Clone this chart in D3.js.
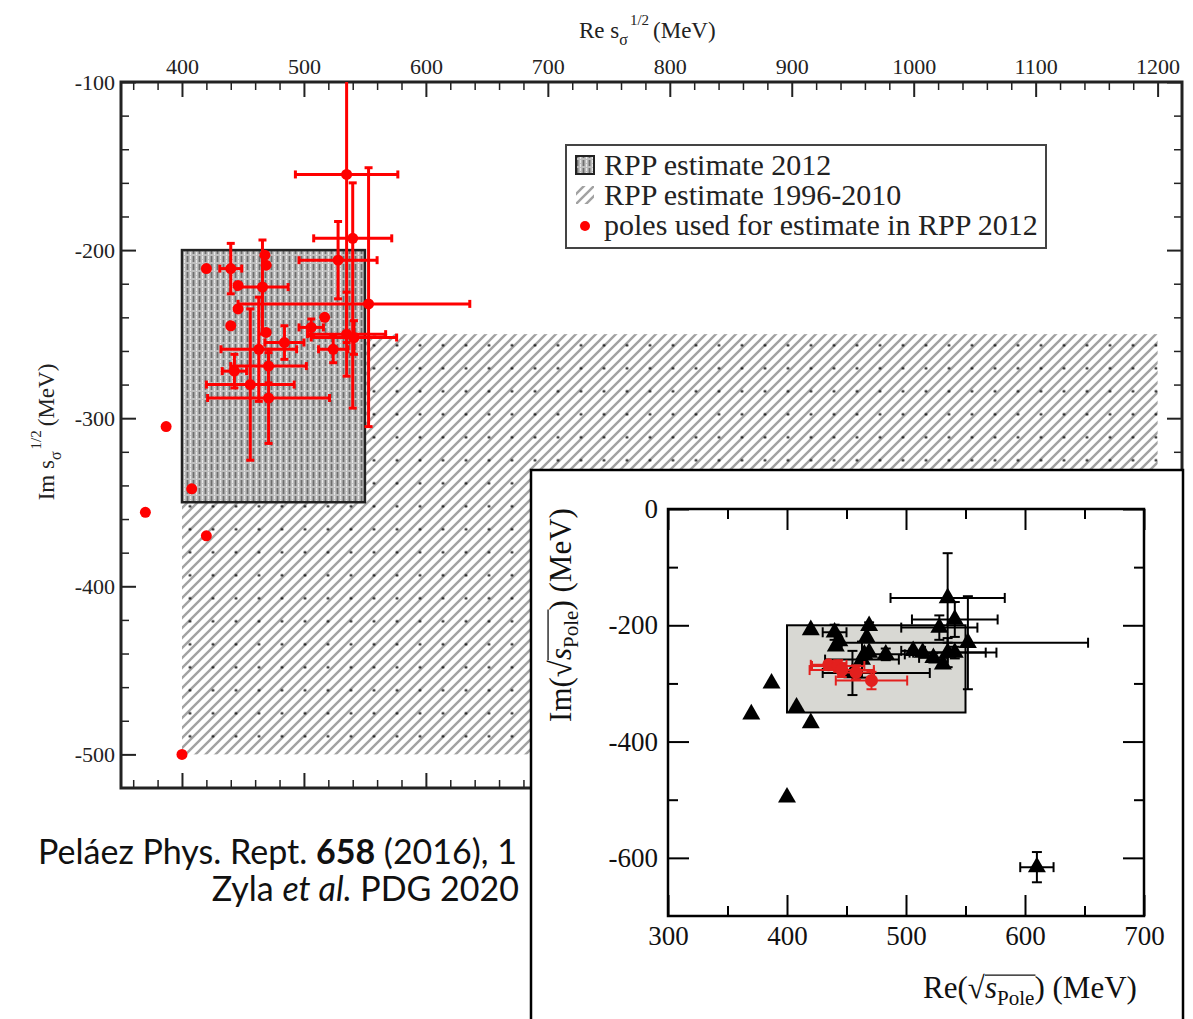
<!DOCTYPE html>
<html>
<head>
<meta charset="utf-8">
<script src="https://cdn.jsdelivr.net/npm/d3@7"></script>
<style>
  body { margin: 0; background: #fff; }
  svg { display: block; }
  .serif { font-family: "Liberation Serif", "Times New Roman", serif; }
</style>
</head>
<body>
<div id="chart"></div>
<script>
// ---------------- data ----------------
const mainXTicks = [400, 500, 600, 700, 800, 900, 1000, 1100, 1200];
const mainYTicks = [-100, -200, -300, -400, -500];
const rpp2012Re = [400, 550], rpp2012Im = [-350, -200];
const rppOldRe = [400, 1200], rppOldIm = [-500, -250];
const legendLabels = ["RPP estimate 2012", "RPP estimate 1996-2010", "poles used for estimate in RPP 2012"];

// poles used for estimate in RPP 2012 (main plot), errors: minus / plus
const poleRe  = [535, 540, 528, 553, 420, 440, 468, 469, 446, 466, 446, 440, 517, 506, 535, 524, 484, 463, 469, 443, 456, 471, 471, 541, 400, 387, 408, 370, 420];
const poleIm  = [-155, -193, -206, -232, -211, -211, -203, -209, -221, -222, -235, -245, -240, -246, -250, -259, -255, -259, -249, -272, -280, -269, -288, -252, -500, -305, -342, -356, -370];
const poleReM = [42, 32, 32, 107, 0, 9, 0, 0, 0, 21, 0, 0, 0, 10, 32, 12, 16, 31, 0, 10, 36, 31, 50, 35, 0, 0, 0, 0, 0];
const poleReP = [42, 32, 32, 83, 0, 9, 0, 0, 0, 21, 0, 0, 0, 10, 32, 12, 16, 31, 0, 10, 36, 31, 50, 35, 0, 0, 0, 0, 0];
const poleImM = [100, 101, 23, 73, 0, 15, 0, 0, 0, 28, 0, 0, 0, 5, 25, 8, 10, 31, 0, 10, 45, 10, 27, 10, 0, 0, 0, 0, 0];
const poleImP = [100, 33, 23, 81, 0, 15, 0, 0, 0, 28, 0, 0, 0, 5, 25, 8, 10, 31, 0, 10, 45, 10, 27, 10, 0, 0, 0, 0, 0];

// inset (PDG 2020)
const insetXTicks = [300, 400, 500, 600, 700];
const insetYTicks = [0, -200, -400, -600];
const insetBoxRe = [400, 550], insetBoxIm = [-350, -200];
const pdgRe  = [535, 541, 528, 552, 420, 440, 444, 441, 469, 467, 469, 455, 483, 506, 514, 523, 531, 535, 541, 387, 370, 408, 420, 400, 610, 463, 465];
const pdgIm  = [-153, -190, -204, -230, -208, -212, -227, -236, -201, -221, -247, -282, -250, -244, -247, -256, -267, -247, -247, -300, -353, -341, -368, -496, -616, -259, -250];
const pdgReM = [48, 36, 32, 106, 0, 10, 0, 0, 0, 0, 0, 25, 16, 10, 0, 12, 0, 32, 35, 0, 0, 0, 0, 0, 14, 31, 0];
const pdgReP = [48, 36, 32, 101, 0, 10, 0, 0, 0, 0, 0, 65, 16, 10, 0, 12, 0, 32, 35, 0, 0, 0, 0, 0, 14, 31, 0];
const pdgImM = [77, 30, 21, 80, 0, 13, 0, 0, 6, 0, 0, 38, 10, 0, 0, 8, 0, 25, 10, 0, 0, 0, 0, 0, 26, 31, 0];
const pdgImP = [77, 30, 21, 80, 0, 13, 0, 0, 6, 0, 0, 38, 10, 0, 0, 8, 0, 25, 10, 0, 0, 0, 0, 0, 26, 31, 0];
const redRe  = [435, 443, 446, 458, 471];
const redIm  = [-268, -270, -277, -281, -295];
const redReE = [15, 22, 27, 15, 30];
const redImE = [5, 10, 12, 12, 15];

// ---------------- setup ----------------
const W = 1193, H = 1019;
const svg = d3.select("#chart").append("svg").attr("width", W).attr("height", H);
const defs = svg.append("defs");
const fmt = d => String(d);   // plain hyphen minus, no thousands comma

// grey vertical texture for RPP 2012
const p1 = defs.append("pattern").attr("id", "rpp2012")
  .attr("patternUnits", "userSpaceOnUse").attr("width", 6).attr("height", 8);
p1.append("rect").attr("width", 6).attr("height", 8).attr("fill", "#bdbdbd");
p1.append("line").attr("x1", 1.5).attr("x2", 1.5).attr("y1", 0).attr("y2", 8)
  .attr("stroke", "#6e6e6e").attr("stroke-width", 1.8).attr("stroke-dasharray", "6 2");
p1.append("line").attr("x1", 4.5).attr("x2", 4.5).attr("y1", 0).attr("y2", 8)
  .attr("stroke", "#e8e8e8").attr("stroke-width", 1).attr("stroke-dasharray", "3 1");

// diagonal hatch for RPP 1996-2010
const p2 = defs.append("pattern").attr("id", "hatch")
  .attr("patternUnits", "userSpaceOnUse").attr("width", 10).attr("height", 10);
p2.append("rect").attr("width", 10).attr("height", 10).attr("fill", "#fff");
p2.append("path").attr("d", "M-2,12 L12,-2 M-2,2 L2,-2 M8,12 L12,8")
  .attr("stroke", "#a2a2a2").attr("stroke-width", 2.4);

const p3 = defs.append("pattern").attr("id", "dots")
  .attr("patternUnits", "userSpaceOnUse").attr("width", 23).attr("height", 23)
  .attr("x", 178.5).attr("y", 517.8);
p3.append("circle").attr("cx", 11.5).attr("cy", 11.5).attr("r", 1.3).attr("fill", "#111");

// ---------------- main plot ----------------
const x = d3.scaleLinear().domain([350, 1220]).range([121, 1182]);
const y = d3.scaleLinear().domain([-520, -100]).range([788, 82]);

defs.append("clipPath").attr("id", "mainClip").append("rect")
  .attr("x", x.range()[0]).attr("y", y.range()[1])
  .attr("width", x.range()[1] - x.range()[0]).attr("height", y.range()[0] - y.range()[1]);

const main = svg.append("g");

// old estimate region
["url(#hatch)", "url(#dots)"].forEach(f => main.append("rect")
  .attr("x", x(rppOldRe[0])).attr("y", y(rppOldIm[1]))
  .attr("width", x(rppOldRe[1]) - x(rppOldRe[0])).attr("height", y(rppOldIm[0]) - y(rppOldIm[1]))
  .attr("fill", f));

// 2012 box
main.append("rect")
  .attr("x", x(rpp2012Re[0])).attr("y", y(rpp2012Im[1]))
  .attr("width", x(rpp2012Re[1]) - x(rpp2012Re[0])).attr("height", y(rpp2012Im[0]) - y(rpp2012Im[1]))
  .attr("fill", "url(#rpp2012)").attr("stroke", "#222").attr("stroke-width", 2.5);

// axes (ticks pointing inside)
const minorX = d3.range(360, 1220, 20).filter(v => v % 100 !== 0);
const minorY = d3.range(-500, -100, 20).filter(v => v % 100 !== 0);

function styleAxis(g, w) {
  g.select(".domain").remove();
  g.selectAll(".tick line").attr("stroke", "#222").attr("stroke-width", w);
  g.selectAll(".tick text").attr("class", "serif").attr("font-size", 22).attr("fill", "#222");
}

main.append("g").attr("transform", `translate(0,${y.range()[1]})`)
  .call(d3.axisTop(x).tickValues(mainXTicks).tickSize(-15).tickPadding(8).tickFormat(fmt))
  .call(g => styleAxis(g, 2));
main.append("g").attr("transform", `translate(0,${y.range()[1]})`)
  .call(d3.axisTop(x).tickValues(minorX).tickSize(-8).tickFormat(""))
  .call(g => styleAxis(g, 1.5));
main.append("g").attr("transform", `translate(0,${y.range()[0]})`)
  .call(d3.axisBottom(x).tickValues(mainXTicks).tickSize(-15).tickFormat(""))
  .call(g => styleAxis(g, 2));
main.append("g").attr("transform", `translate(0,${y.range()[0]})`)
  .call(d3.axisBottom(x).tickValues(minorX).tickSize(-8).tickFormat(""))
  .call(g => styleAxis(g, 1.5));
main.append("g").attr("transform", `translate(${x.range()[0]},0)`)
  .call(d3.axisLeft(y).tickValues(mainYTicks).tickSize(-15).tickPadding(6).tickFormat(fmt))
  .call(g => styleAxis(g, 2));
main.append("g").attr("transform", `translate(${x.range()[0]},0)`)
  .call(d3.axisLeft(y).tickValues(minorY).tickSize(-8).tickFormat(""))
  .call(g => styleAxis(g, 1.5));
main.append("g").attr("transform", `translate(${x.range()[1]},0)`)
  .call(d3.axisRight(y).tickValues(mainYTicks).tickSize(-15).tickFormat(""))
  .call(g => styleAxis(g, 2));
main.append("g").attr("transform", `translate(${x.range()[1]},0)`)
  .call(d3.axisRight(y).tickValues(minorY).tickSize(-8).tickFormat(""))
  .call(g => styleAxis(g, 1.5));

// frame
main.append("rect")
  .attr("x", x.range()[0]).attr("y", y.range()[1])
  .attr("width", x.range()[1] - x.range()[0]).attr("height", y.range()[0] - y.range()[1])
  .attr("fill", "none").attr("stroke", "#222").attr("stroke-width", 3);

// axis titles
const xt = main.append("text").attr("class", "serif").attr("font-size", 23).attr("fill", "#222")
  .attr("x", 579).attr("y", 38);
xt.append("tspan").text("Re s");
xt.append("tspan").attr("font-size", 16).attr("dy", 7).text("σ");
xt.append("tspan").attr("font-size", 15).attr("dy", -20).attr("dx", 2).text("1/2");
xt.append("tspan").attr("dy", 13).attr("dx", 4).text("(MeV)");

const yt = main.append("g").attr("transform", "translate(54,432) rotate(-90)")
  .append("text").attr("class", "serif").attr("font-size", 23).attr("fill", "#222")
  .attr("text-anchor", "middle");
yt.append("tspan").text("Im s");
yt.append("tspan").attr("font-size", 16).attr("dy", 7).text("σ");
yt.append("tspan").attr("font-size", 15).attr("dy", -20).attr("dx", 2).text("1/2");
yt.append("tspan").attr("dy", 13).attr("dx", 4).text("(MeV)");

// error bars helper
function drawErrors(g, xs, ys, re, im, reM, reP, imM, imP, color, w, cap) {
  re.forEach((r, i) => {
    const cx = xs(r), cy = ys(im[i]);
    if (reM[i] || reP[i]) {
      const x0 = xs(r - reM[i]), x1 = xs(r + reP[i]);
      g.append("line").attr("x1", x0).attr("x2", x1).attr("y1", cy).attr("y2", cy)
        .attr("stroke", color).attr("stroke-width", w);
      [x0, x1].forEach(xx => g.append("line").attr("x1", xx).attr("x2", xx)
        .attr("y1", cy - cap).attr("y2", cy + cap).attr("stroke", color).attr("stroke-width", w));
    }
    if (imM[i] || imP[i]) {
      const y0 = ys(im[i] - imM[i]), y1 = ys(im[i] + imP[i]);
      g.append("line").attr("x1", cx).attr("x2", cx).attr("y1", y0).attr("y2", y1)
        .attr("stroke", color).attr("stroke-width", w);
      [y0, y1].forEach(yy => g.append("line").attr("y1", yy).attr("y2", yy)
        .attr("x1", cx - cap).attr("x2", cx + cap).attr("stroke", color).attr("stroke-width", w));
    }
  });
}

const poles = main.append("g").attr("clip-path", "url(#mainClip)");
drawErrors(poles, x, y, poleRe, poleIm, poleReM, poleReP, poleImM, poleImP, "#ff0000", 3, 4);
poles.selectAll("circle").data(poleRe).join("circle")
  .attr("cx", d => x(d)).attr("cy", (d, i) => y(poleIm[i])).attr("r", 5.5).attr("fill", "#ff0000");

// legend
const lg = main.append("g");
lg.append("rect").attr("x", 566).attr("y", 145).attr("width", 480).attr("height", 103)
  .attr("fill", "#fff").attr("stroke", "#444").attr("stroke-width", 2);
lg.append("rect").attr("x", 576).attr("y", 156).attr("width", 18).attr("height", 18)
  .attr("fill", "url(#rpp2012)").attr("stroke", "#222").attr("stroke-width", 2);
lg.append("rect").attr("x", 576).attr("y", 186).attr("width", 18).attr("height", 18)
  .attr("fill", "url(#hatch)");
lg.append("circle").attr("cx", 585).attr("cy", 226).attr("r", 5).attr("fill", "#ff0000");
lg.selectAll("text.lab").data(legendLabels).join("text")
  .attr("class", "serif lab").attr("font-size", 30).attr("fill", "#222")
  .attr("x", 604).attr("y", (d, i) => 175 + i * 30).text(d => d);

// ---------------- inset ----------------
const inset = svg.append("g");
inset.append("rect").attr("x", 531).attr("y", 470).attr("width", 652).attr("height", 570)
  .attr("fill", "#fff").attr("stroke", "#000").attr("stroke-width", 2.5);

const ix = d3.scaleLinear().domain([300, 700]).range([668, 1144]);
const iy = d3.scaleLinear().domain([-700, 0]).range([916, 509]);

inset.append("rect")
  .attr("x", ix(insetBoxRe[0])).attr("y", iy(insetBoxIm[1]))
  .attr("width", ix(insetBoxRe[1]) - ix(insetBoxRe[0])).attr("height", iy(insetBoxIm[0]) - iy(insetBoxIm[1]))
  .attr("fill", "#d8d8d3").attr("stroke", "#000").attr("stroke-width", 2);

const iMinorX = [350, 450, 550, 650];
const iMinorY = [-100, -300, -500];
function styleInset(g, w) {
  g.select(".domain").remove();
  g.selectAll(".tick line").attr("stroke", "#000").attr("stroke-width", w);
  g.selectAll(".tick text").attr("class", "serif").attr("font-size", 27).attr("fill", "#111");
}
inset.append("g").attr("transform", `translate(0,${iy.range()[0]})`)
  .call(d3.axisBottom(ix).tickValues(insetXTicks).tickSize(-21).tickPadding(10).tickFormat(fmt))
  .call(g => styleInset(g, 2));
inset.append("g").attr("transform", `translate(0,${iy.range()[0]})`)
  .call(d3.axisBottom(ix).tickValues(iMinorX).tickSize(-10).tickFormat(""))
  .call(g => styleInset(g, 2));
inset.append("g").attr("transform", `translate(0,${iy.range()[1]})`)
  .call(d3.axisTop(ix).tickValues(insetXTicks).tickSize(-21).tickFormat(""))
  .call(g => styleInset(g, 2));
inset.append("g").attr("transform", `translate(0,${iy.range()[1]})`)
  .call(d3.axisTop(ix).tickValues(iMinorX).tickSize(-10).tickFormat(""))
  .call(g => styleInset(g, 2));
inset.append("g").attr("transform", `translate(${ix.range()[0]},0)`)
  .call(d3.axisLeft(iy).tickValues(insetYTicks).tickSize(-21).tickPadding(10).tickFormat(fmt))
  .call(g => styleInset(g, 2));
inset.append("g").attr("transform", `translate(${ix.range()[0]},0)`)
  .call(d3.axisLeft(iy).tickValues(iMinorY).tickSize(-10).tickFormat(""))
  .call(g => styleInset(g, 2));
inset.append("g").attr("transform", `translate(${ix.range()[1]},0)`)
  .call(d3.axisRight(iy).tickValues(insetYTicks).tickSize(-21).tickFormat(""))
  .call(g => styleInset(g, 2));
inset.append("g").attr("transform", `translate(${ix.range()[1]},0)`)
  .call(d3.axisRight(iy).tickValues(iMinorY).tickSize(-10).tickFormat(""))
  .call(g => styleInset(g, 2));

inset.append("rect")
  .attr("x", ix.range()[0]).attr("y", iy.range()[1])
  .attr("width", ix.range()[1] - ix.range()[0]).attr("height", iy.range()[0] - iy.range()[1])
  .attr("fill", "none").attr("stroke", "#000").attr("stroke-width", 2.5);

const pdg = inset.append("g");
drawErrors(pdg, ix, iy, pdgRe, pdgIm, pdgReM, pdgReP, pdgImM, pdgImP, "#000", 2, 5);
pdg.selectAll("path.tri").data(pdgRe).join("path").attr("class", "tri")
  .attr("transform", (d, i) => `translate(${ix(d)},${iy(pdgIm[i])})`)
  .attr("d", d3.symbol(d3.symbolTriangle, 140)).attr("fill", "#000");

const red = inset.append("g");
drawErrors(red, ix, iy, redRe, redIm, redReE, redReE, redImE, redImE, "#e3201e", 2, 5);
red.selectAll("circle").data(redRe).join("circle")
  .attr("cx", d => ix(d)).attr("cy", (d, i) => iy(redIm[i])).attr("r", 6.5).attr("fill", "#e3201e");

// labels with sqrt(s_Pole)
function sqrtLabel(parent, prefix, suffix, size) {
  const t = parent.append("text").attr("class", "serif").attr("font-size", size).attr("fill", "#111");
  t.append("tspan").text(prefix + "√");
  t.append("tspan").attr("font-style", "italic").text("s");
  t.append("tspan").attr("font-size", size * 0.68).attr("dy", size * 0.22).text("Pole");
  t.append("tspan").attr("dy", -size * 0.22).text(suffix);
  const node = t.node();
  const total = node.getComputedTextLength();
  const s0 = node.getSubStringLength(0, prefix.length + 1);
  const s1 = node.getSubStringLength(0, prefix.length + 6);
  t.attr("x", -total / 2);
  parent.append("line").attr("x1", -total / 2 + s0).attr("x2", -total / 2 + s1 + 1)
    .attr("y1", -size * 0.74).attr("y2", -size * 0.74).attr("stroke", "#111").attr("stroke-width", 1.3);
}
sqrtLabel(inset.append("g").attr("transform", "translate(1030,998)"), "Re(", ")  (MeV)", 31);
sqrtLabel(inset.append("g").attr("transform", "translate(571,615) rotate(-90)"), "Im(", ") (MeV)", 31);

// ---------------- reference text ----------------
const ref = svg.append("g").attr("font-family", "Lato, 'Open Sans', sans-serif").attr("font-size", 34).attr("fill", "#111");
const r1 = ref.append("text").attr("x", 517).attr("y", 864).attr("text-anchor", "end");
r1.append("tspan").text("Peláez Phys. Rept. ");
r1.append("tspan").attr("font-weight", "bold").text("658");
r1.append("tspan").text(" (2016), 1");
const r2 = ref.append("text").attr("x", 519).attr("y", 901).attr("text-anchor", "end");
r2.append("tspan").text("Zyla ");
r2.append("tspan").attr("font-style", "italic").text("et al.");
r2.append("tspan").text(" PDG 2020");
</script>
</body>
</html>
